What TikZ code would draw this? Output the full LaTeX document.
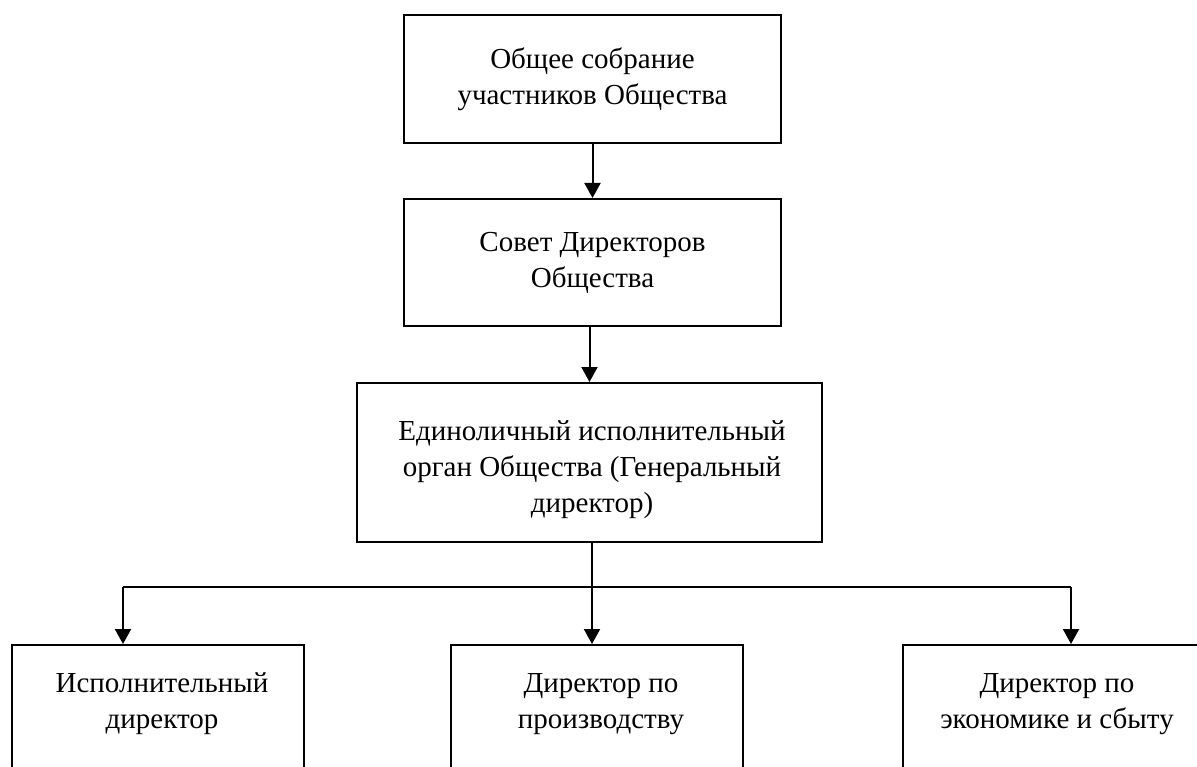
\documentclass[tikz,border=0pt]{standalone}
\usepackage{fontspec}
\setmainfont{Liberation Serif}
\usetikzlibrary{arrows.meta}
\begin{document}
\begin{tikzpicture}[x=1pt,y=-1pt,
  txt/.style={inner sep=0pt,align=center,font=\fontsize{29}{36}\selectfont},
  box/.style={txt,draw=black,line width=2pt,fill=white},
  arr/.style={line width=2pt,-{Triangle[width=16pt,length=15pt]}},
  thinline/.style={line width=1.5pt}]
\useasboundingbox (0,0) rectangle (1197,767);
\clip (0,0) rectangle (1197,767);
\fill[white] (0,0) rectangle (1197,767);
\node[box,minimum width=377pt,minimum height=128pt] (b1) at (592.5,79)
  {Общее собрание\\участников Общества};
\node[box,minimum width=377pt,minimum height=127pt] (b2) at (592.5,262.5)
  {Совет Директоров\\Общества};
\node[box,minimum width=465pt,minimum height=159pt] (b3) at (589.5,462.5) {};
\node[txt] (t0) at (592,470)
  {Единоличный исполнительный\\орган Общества (Генеральный\\директор)};
\node[box,minimum width=292pt,minimum height=130pt] (c1) at (158,710) {};
\node[box,minimum width=292pt,minimum height=130pt] (c2) at (597,710) {};
\node[box,minimum width=297pt,minimum height=130pt] (c3) at (1051.5,710) {};
\node[txt] (t1) at (162,704) {Исполнительный\\директор};
\node[txt] (t2) at (601,704) {Директор по\\производству};
\node[txt] (t3) at (1057,704) {Директор по\\экономике и сбыту};
\coordinate (j) at (592,587);
\coordinate (jl) at (123,587);
\coordinate (jr) at (1071,587);
\draw[arr] (b1.south) -- (b2.north);
\draw[arr] (b3.north |- b2.south) -- (b3.north);
\draw[thinline] (b3.south -| j) -- (j);
\draw[thinline] (jl) -- (jr);
\draw[arr] (jl) -- (jl |- c1.north);
\draw[arr] (j) -- (j |- c2.north);
\draw[arr] (jr) -- (jr |- c3.north);
\end{tikzpicture}
\end{document}
